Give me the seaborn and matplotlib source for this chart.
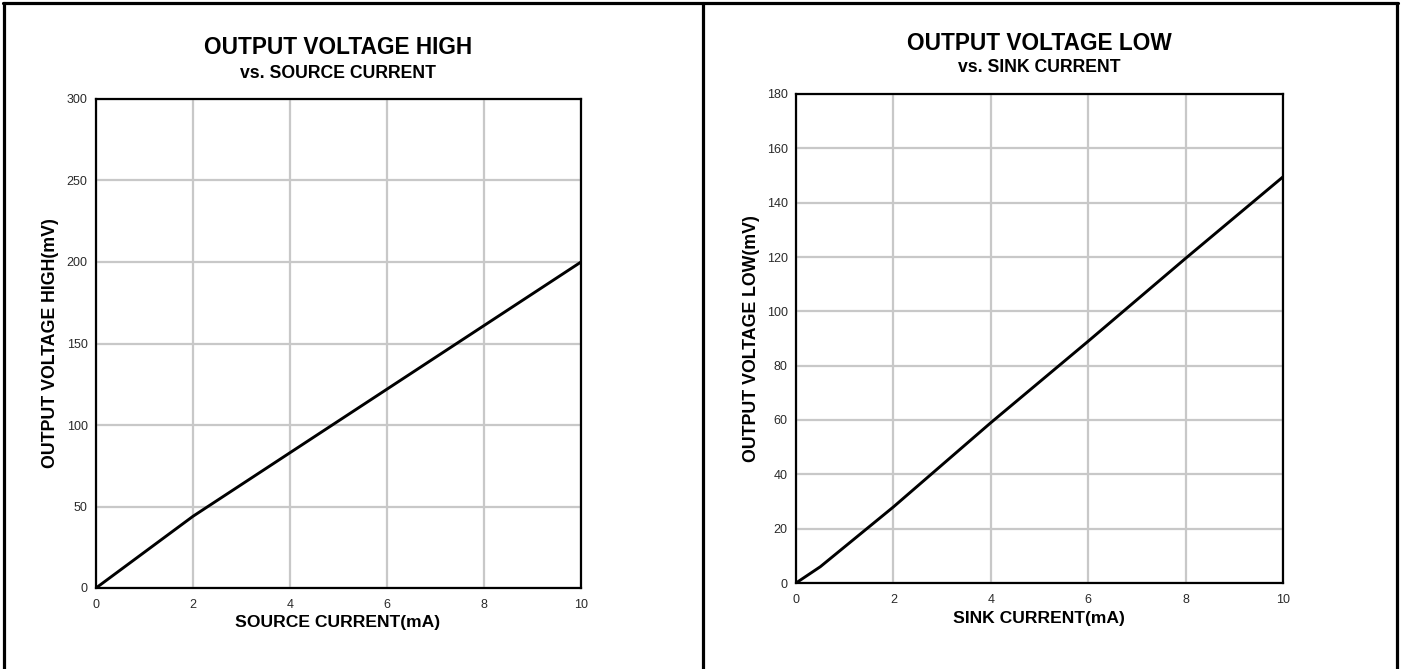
import matplotlib
matplotlib.use("Agg")
import matplotlib.pyplot as plt
from matplotlib.lines import Line2D
import seaborn as sns
import pandas as pd

# Data
src_current = [0, 2, 4, 6, 8, 10]
voh_mv = [0, 44, 83, 122, 161, 200]

sink_current = [0, 0.5, 2, 4, 6, 8, 10]
vol_mv = [0, 6, 28, 59, 89, 119.5, 149.5]

left_title = "OUTPUT VOLTAGE HIGH"
left_sub = "vs. SOURCE CURRENT"
left_xlabel = "SOURCE CURRENT(mA)"
left_ylabel = "OUTPUT VOLTAGE HIGH(mV)"
left_yticks = [0, 50, 100, 150, 200, 250, 300]

right_title = "OUTPUT VOLTAGE LOW"
right_sub = "vs. SINK CURRENT"
right_xlabel = "SINK CURRENT(mA)"
right_ylabel = "OUTPUT VOLTAGE LOW(mV)"
right_yticks = [0, 20, 40, 60, 80, 100, 120, 140, 160, 180]

xticks = [0, 2, 4, 6, 8, 10]

sns.set_theme(style="white")
plt.rcParams['font.family'] = ['Liberation Sans', 'DejaVu Sans']

W, H = 1405, 669
fig = plt.figure(figsize=(W / 100, H / 100), dpi=100)
fig.patch.set_facecolor("white")


def fx(px):
    return px / W


def fy(py):
    return 1 - py / H


def make_panel(box, xs, ys, yticks, ymax, title, sub, xlabel, ylabel,
               tcx, ty, sy, ylx, xly):
    x0, y0, x1, y1 = box
    ax = fig.add_axes([fx(x0), fy(y1), fx(x1) - fx(x0), fy(y0) - fy(y1)])
    df = pd.DataFrame({"x": xs, "y": ys})
    sns.lineplot(data=df, x="x", y="y", ax=ax, color="black", linewidth=2.1)
    ax.set_xlim(0, 10)
    ax.set_ylim(0, ymax)
    ax.set_xticks(xticks)
    ax.set_yticks(yticks)
    ax.grid(True, color="#c8c8c8", linewidth=1.6)
    ax.set_axisbelow(True)
    for s in ax.spines.values():
        s.set_color("black")
        s.set_linewidth(1.6)
        s.set_visible(True)
    ax.tick_params(axis="both", length=0, labelsize=9, colors="#2a2a2a")
    ax.tick_params(axis="x", pad=8)
    ax.tick_params(axis="y", pad=6)
    ax.set_xlabel("")
    ax.set_ylabel("")
    fig.text(fx(tcx), fy(ty), title, ha="center", va="center",
             fontsize=16.3, fontweight="bold", color="black")
    fig.text(fx(tcx), fy(sy), sub, ha="center", va="center",
             fontsize=12.7, fontweight="bold", color="black")
    fig.text(fx(tcx), fy(xly), xlabel, ha="center", va="center",
             fontsize=12.6, fontweight="bold", color="black")
    fig.text(fx(ylx), fy((y0 + y1) / 2), ylabel, ha="center", va="center",
             rotation=90, fontsize=12.8, fontweight="bold", color="black")
    return ax


make_panel((96, 99, 581, 588), src_current, voh_mv, left_yticks, 300,
           left_title, left_sub, left_xlabel, left_ylabel,
           338, 48, 73, 51, 623)
make_panel((796, 94, 1283, 583), sink_current, vol_mv, right_yticks, 180,
           right_title, right_sub, right_xlabel, right_ylabel,
           1039, 43, 67, 751, 618)

# Outer frame and divider
lw = 2.3
for (xa, ya, xb, yb) in [(3, 3, 1398, 3), (4, 3, 4, 669), (1397, 3, 1397, 669),
                         (703, 3, 703, 669)]:
    fig.add_artist(Line2D([fx(xa), fx(xb)], [fy(ya), fy(yb)],
                          transform=fig.transFigure, color="black", linewidth=lw))

fig.savefig("out.png", dpi=100, facecolor="white")
